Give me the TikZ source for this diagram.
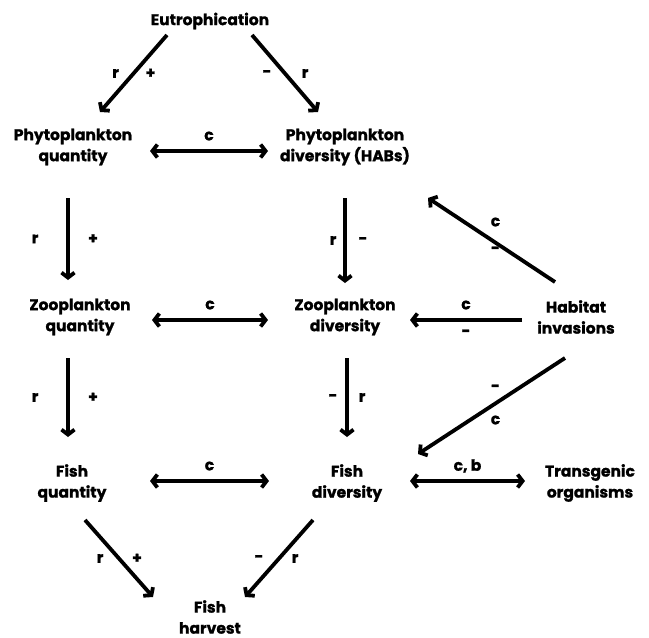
\documentclass[tikz,border=0pt]{standalone}
\usepackage{fontspec}
\setmainfont{Poppins}[BoldFeatures={FakeBold=1.2}]
\usetikzlibrary{arrows.meta}

\tikzset{
  box/.style={align=center,font=\fontsize{15.5}{21}\selectfont\bfseries,inner sep=0pt},
  sign/.style={font=\fontsize{15.5}{16}\selectfont\bfseries,inner sep=0pt},
  arr/.style={line width=3.8pt,-{Straight Barb[length=5pt,width=13pt,line width=3.8pt]}},
  biarr/.style={line width=3.8pt,{Straight Barb[length=5pt,width=13pt,line width=3.8pt]}-{Straight Barb[length=5pt,width=13pt,line width=3.8pt]}}
}

\begin{document}
\begin{tikzpicture}[x=1pt,y=-1pt]
\useasboundingbox (0,0) rectangle (649,638);

% levels of the food web
\node[box] (eutro) at (210,21) {Eutrophication};
\node[box] (phyq) at (73,147) {Phytoplankton\\quantity};
\node[box] (phyd) at (345,147) {Phytoplankton\\diversity (HABs)};
\node[box] (zooq) at (80,317) {Zooplankton\\quantity};
\node[box] (zood) at (345,317) {Zooplankton\\diversity};
\node[box] (habit) at (576,317) {Habitat\\invasions};
\node[box] (fishq) at (72,483) {Fish\\quantity};
\node[box] (fishd) at (347,483) {Fish\\diversity};
\node[box] (trans) at (590,483) {Transgenic\\organisms};
\node[box] (harv) at (210,617) {Fish\\harvest};

% eutrophication
\draw[arr] ([shift={(-43,14)}]eutro.center) -- ([shift={(27,-35)}]phyq.center)
  node[sign,pos=.5,xshift=-18] {r} node[sign,pos=.5,xshift=17] {+};
\draw[arr] ([shift={(42,14)}]eutro.center) -- ([shift={(-27,-35)}]phyd.center)
  node[sign,pos=.5,xshift=-18] {-} node[sign,pos=.5,xshift=20] {r};

% horizontal links
\draw[biarr] ([shift={(77,4)}]phyq.center) -- ([shift={(-77,4)}]phyd.center)
  node[sign,pos=.5,yshift=15] {c};
\draw[biarr] ([shift={(72,3)}]zooq.center) -- ([shift={(-77,3)}]zood.center)
  node[sign,pos=.5,yshift=15] {c};
\draw[arr] ([shift={(-54,3)}]habit.center) -- ([shift={(65,3)}]zood.center)
  node[sign,pos=.5,yshift=15] {c} node[sign,pos=.5,yshift=-13] {-};
\draw[biarr] ([shift={(78,-2)}]fishq.center) -- ([shift={(-78,-2)}]fishd.center)
  node[sign,pos=.5,yshift=15] {c};
\draw[biarr] ([shift={(63,-2)}]fishd.center) -- ([shift={(-65,-2)}]trans.center)
  node[sign,pos=.5,yshift=15] {c, b};

% vertical links
\draw[arr] ([shift={(-5,51)}]phyq.center) -- ([shift={(-12,-37)}]zooq.center)
  node[sign,pos=.5,xshift=-33] {r} node[sign,pos=.5,xshift=25] {+};
\draw[arr] ([shift={(0,51)}]phyd.center) -- ([shift={(0,-34)}]zood.center)
  node[sign,pos=.5,xshift=-12] {r} node[sign,pos=.5,xshift=18] {-};
\draw[arr] ([shift={(-12,41)}]zooq.center) -- ([shift={(-4,-46)}]fishq.center)
  node[sign,pos=.5,xshift=-33] {r} node[sign,pos=.5,xshift=25] {+};
\draw[arr] ([shift={(2,41)}]zood.center) -- ([shift={(0,-46)}]fishd.center)
  node[sign,pos=.5,xshift=-14] {-} node[sign,pos=.5,xshift=15] {r};

% habitat invasions
\draw[arr] ([shift={(-21,-35)}]habit.center) -- ([shift={(83,51)}]phyd.center)
  node[sign,pos=.5,xshift=4,yshift=18] {c} node[sign,pos=.5,xshift=4,yshift=-10] {-};
\draw[arr] ([shift={(-11,41)}]habit.center) -- ([shift={(71,-29)}]fishd.center)
  node[sign,pos=.5,xshift=4,yshift=18] {-} node[sign,pos=.5,xshift=4,yshift=-14] {c};

% harvest
\draw[arr] ([shift={(13,37)}]fishq.center) -- ([shift={(-57,-20)}]harv.center)
  node[sign,pos=.5,xshift=-19] {r} node[sign,pos=.5,xshift=18] {+};
\draw[arr] ([shift={(-34,37)}]fishd.center) -- ([shift={(35,-20)}]harv.center)
  node[sign,pos=.5,xshift=-20] {-} node[sign,pos=.5,xshift=16] {r};
\end{tikzpicture}
\end{document}
